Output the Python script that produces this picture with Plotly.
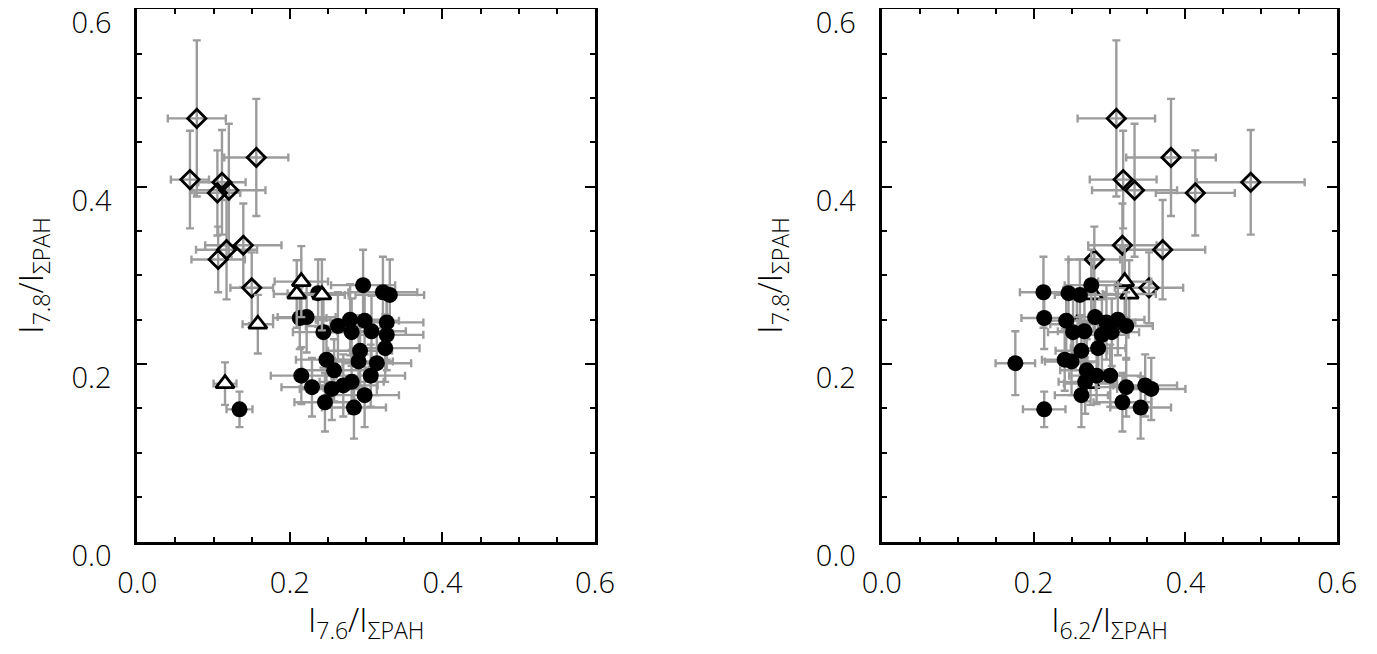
import plotly.graph_objects as go

# ---- circles (filled black) ----
c_x76 = [0.296, 0.322, 0.237, 0.331, 0.213, 0.222, 0.279, 0.298, 0.327, 0.263,
         0.244, 0.307, 0.281, 0.327, 0.325, 0.292, 0.248, 0.290, 0.314, 0.258,
         0.306, 0.215, 0.281, 0.229, 0.255, 0.270, 0.298, 0.246, 0.284, 0.134]
c_x62 = [0.276, 0.213, 0.246, 0.261, 0.214, 0.281, 0.311, 0.243, 0.296, 0.322,
         0.252, 0.267, 0.303, 0.290, 0.285, 0.263, 0.241, 0.250, 0.176, 0.270,
         0.301, 0.283, 0.268, 0.322, 0.355, 0.347, 0.263, 0.317, 0.341, 0.214]
c_y78 = [0.289, 0.281, 0.280, 0.278, 0.252, 0.253, 0.250, 0.249, 0.247, 0.243,
         0.236, 0.237, 0.236, 0.233, 0.218, 0.215, 0.205, 0.203, 0.201, 0.193,
         0.187, 0.187, 0.180, 0.174, 0.172, 0.176, 0.165, 0.157, 0.151, 0.149]
c_x76_err = [0.042, 0.045, 0.040, 0.045, 0.035, 0.038, 0.045, 0.045, 0.048, 0.042,
             0.040, 0.045, 0.045, 0.048, 0.045, 0.042, 0.040, 0.045, 0.045, 0.042,
             0.045, 0.040, 0.042, 0.040, 0.042, 0.045, 0.045, 0.040, 0.042, 0.017]
c_x62_err = [0.035, 0.031, 0.035, 0.033, 0.030, 0.035, 0.035, 0.032, 0.038, 0.035,
             0.033, 0.035, 0.036, 0.035, 0.036, 0.034, 0.030, 0.035, 0.026, 0.035,
             0.040, 0.036, 0.035, 0.040, 0.045, 0.042, 0.035, 0.038, 0.040, 0.028]
c_y_err = [0.040, 0.040, 0.038, 0.040, 0.035, 0.040, 0.040, 0.038, 0.042, 0.038,
           0.040, 0.040, 0.038, 0.040, 0.038, 0.040, 0.035, 0.038, 0.036, 0.035,
           0.035, 0.032, 0.036, 0.033, 0.035, 0.035, 0.036, 0.033, 0.035, 0.020]

# ---- diamonds (open) ----
d_x76 = [0.078, 0.156, 0.069, 0.111, 0.105, 0.120, 0.139, 0.117, 0.106, 0.150]
d_x62 = [0.309, 0.381, 0.318, 0.486, 0.413, 0.333, 0.317, 0.370, 0.280, 0.352]
d_y78 = [0.477, 0.433, 0.408, 0.405, 0.393, 0.396, 0.334, 0.329, 0.318, 0.286]
d_x76_err = [0.038, 0.042, 0.025, 0.031, 0.030, 0.048, 0.050, 0.040, 0.035, 0.028]
d_x62_err = [0.051, 0.059, 0.044, 0.071, 0.052, 0.056, 0.045, 0.056, 0.034, 0.045]
d_y_err = [0.088, 0.066, 0.055, 0.059, 0.048, 0.075, 0.047, 0.056, 0.037, 0.040]

# ---- triangles (open, white) ----
t_x76 = [0.215, 0.209, 0.242, 0.158, 0.115]
t_x62 = [0.320, 0.326, 0.279, 0.257, 0.275]
t_y78 = [0.293, 0.279, 0.278, 0.245, 0.178]
t_x76_err = [0.035, 0.030, 0.030, 0.020, 0.015]
t_x62_err = [0.035, 0.035, 0.030, 0.035, 0.035]
t_y_err = [0.040, 0.038, 0.040, 0.033, 0.024]

ticks_vals = [0.0, 0.2, 0.4, 0.6]
ticks_text = ["0.0", "0.2", "0.4", "0.6"]

GRAY = "#9c9c9c"
FONT = "Open Sans"


def err(arr):
    return dict(type="data", array=arr, color=GRAY, thickness=2.4, width=4)


def circles(x, xe, xa, ya):
    return go.Scatter(x=x, y=c_y78, mode="markers", xaxis=xa, yaxis=ya,
                      error_x=err(xe), error_y=err(c_y_err),
                      marker=dict(symbol="circle", size=16, color="black",
                                  line=dict(width=0)),
                      showlegend=False, hoverinfo="skip")


def diamonds(x, xe, xa, ya):
    return go.Scatter(x=x, y=d_y78, mode="markers", xaxis=xa, yaxis=ya,
                      error_x=err(xe), error_y=err(d_y_err),
                      marker=dict(symbol="diamond-open", size=14, color="black",
                                  line=dict(width=2.8, color="black")),
                      showlegend=False, hoverinfo="skip")


def triangles(x, xe, xa, ya):
    return go.Scatter(x=x, y=t_y78, mode="markers", xaxis=xa, yaxis=ya,
                      error_x=err(xe), error_y=err(t_y_err),
                      marker=dict(symbol="triangle-up", size=16, color="white",
                                  line=dict(width=2.8, color="black")),
                      showlegend=False, hoverinfo="skip")


fig = go.Figure()
# left panel
fig.add_trace(diamonds(d_x76, d_x76_err, "x", "y"))
fig.add_trace(circles(c_x76, c_x76_err, "x", "y"))
fig.add_trace(triangles(t_x76, t_x76_err, "x", "y"))
# right panel
fig.add_trace(diamonds(d_x62, d_x62_err, "x2", "y2"))
fig.add_trace(triangles(t_x62, t_x62_err, "x2", "y2"))
fig.add_trace(circles(c_x62, c_x62_err, "x2", "y2"))

OFF = 8  # page body margin
W, H = 1377 - 2 * OFF, 654 - 2 * OFF


def xd(a, b):
    return [(a - OFF) / W, (b - OFF) / W]


ydom = [1 - (541.5 - OFF) / H, 1 - (9.3 - OFF) / H]


def axis(domain, title, anchor, standoff, labelstand, shift):
    return dict(
        domain=domain, range=[0, 0.6], anchor=anchor,
        tickvals=ticks_vals, ticktext=ticks_text,
        ticks="inside", ticklen=10, tickwidth=2, tickcolor="black",
        minor=dict(dtick=0.05, tick0=0, ticks="inside", ticklen=5,
                   tickwidth=2, tickcolor="black", showgrid=False),
        showline=True, linewidth=3, linecolor="black", mirror="ticks",
        showgrid=False, zeroline=False, automargin=False,
        ticklabelstandoff=labelstand, ticklabelshift=shift,
        ticklabeloverflow="allow",
        tickfont=dict(family=FONT, size=29, color="black", weight=300),
        title=dict(text=title, standoff=standoff,
                   font=dict(family=FONT, size=33, color="black", weight=300)),
    )


ylabel = "I<sub>7.8</sub>/I<sub>ΣPAH</sub>"
fig.update_layout(
    width=W, height=H,
    margin=dict(l=0, r=0, t=0, b=0),
    paper_bgcolor="white", plot_bgcolor="white",
    xaxis=axis(xd(137.3, 595.0), "I<sub>7.6</sub>/I<sub>ΣPAH</sub>", "y", 6, 14, 0),
    yaxis=axis(ydom, ylabel, "x", 24, 17, 14),
    xaxis2=axis(xd(881.7, 1337.3), "I<sub>6.2</sub>/I<sub>ΣPAH</sub>", "y2", 6, 14, 0),
    yaxis2=axis(ydom, ylabel, "x2", 24, 17, 14),
)

fig.write_html("out.html")
